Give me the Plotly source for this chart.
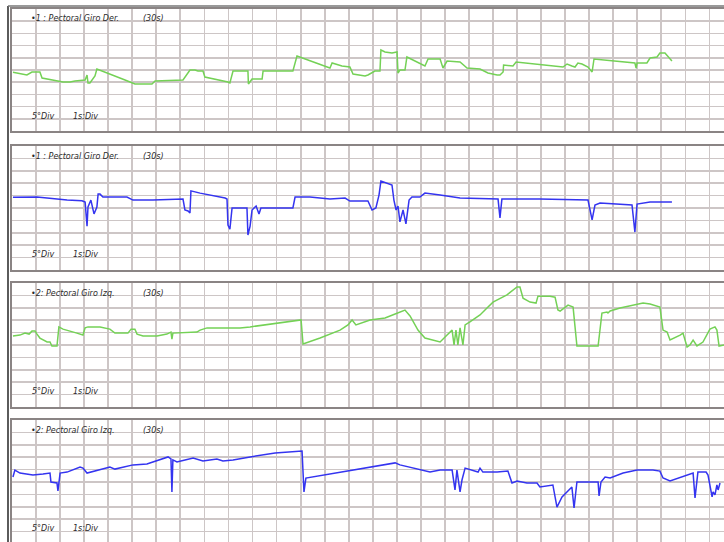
import plotly.graph_objects as go

W, H = 724, 542

# ---- data: time (s) and angle (deg) per channel ----
t1 = [0.04, 0.62, 0.83, 1.16, 1.25, 2.12, 2.41, 2.62, 3.04, 3.12, 3.16, 3.24, 3.45, 3.53, 4.70, 4.91, 5.11, 5.82, 5.95,
      7.11, 7.40, 7.61, 7.73, 7.94, 8.02, 8.98, 9.06, 9.19, 9.81, 9.83, 9.90, 9.98, 10.40, 10.44, 11.68, 11.85, 13.22,
      13.31, 13.72, 14.05, 14.18, 14.68, 14.80, 15.09, 15.30, 15.34, 15.51, 15.80, 16.01, 16.05, 16.13, 16.34, 16.42,
      17.17, 17.30, 17.80, 17.92, 18.09, 18.63, 18.92, 19.46, 19.79, 20.17, 20.29, 20.42, 20.44, 20.83, 20.96, 22.91,
      23.08, 23.28, 23.41, 23.53, 23.70, 23.95, 24.12, 24.20, 25.90, 25.95, 25.99, 26.40, 26.53, 26.82, 26.94, 27.15,
      27.28, 27.44]
a1 = [-0.9, -2.05, -0.82, -0.82, -3.28, -4.92, -4.92, -4.51, -4.1, -2.05, -5.33, -5.33, -2.46, 0.41, -4.1, -4.92, -5.74,
      -5.74, -4.51, -4.1, 0.0, 0.0, -0.41, -0.41, -2.87, -4.92, -5.33, -0.41, -0.41, -5.74, -4.92, -3.69, -3.69, -0.41,
      -0.41, 5.74, 0.82, 2.87, 1.64, 1.23, -1.64, -2.46, -2.05, -0.41, -0.41, 8.2, 7.38, 6.97, 7.38, -1.23, 0.0, 0.0,
      5.33, 1.64, 4.51, 4.51, 0.82, 3.69, 3.28, 0.82, 0.41, -1.23, -2.05, -2.05, -0.82, 2.05, 1.64, 3.28, 1.23, 2.46,
      1.64, 1.23, 2.87, 2.46, 1.23, -0.82, 4.51, 2.87, 0.82, 2.87, 2.87, 4.92, 5.33, 6.97, 6.97, 5.33, 3.69]

t2 = [0.04, 1.04, 2.29, 2.91, 3.04, 3.12, 3.16, 3.28, 3.41, 3.53, 3.58, 3.66, 3.78, 4.78, 5.03, 5.86, 7.11, 7.19, 7.32,
      7.40, 7.44, 7.82, 8.86, 8.94, 8.98, 9.06, 9.15, 9.77, 9.81, 9.90, 9.98, 10.15, 10.27, 10.35, 11.68, 11.77, 12.39,
      13.22, 13.85, 14.05, 14.80, 14.97, 15.13, 15.26, 15.34, 15.55, 15.80, 15.88, 15.97, 16.05, 16.13, 16.26, 16.38,
      16.51, 16.63, 16.96, 17.17, 17.80, 18.63, 20.21, 20.29, 20.37, 21.93, 23.95, 24.03, 24.12, 24.24, 24.45, 25.78,
      25.90, 25.99, 26.53, 27.44]
a2 = [4.3, 4.4, 3.2, 2.9, 2.4, -7.3, 0.4, 3.2, -2.4, 0.4, 5.6, 5.6, 4.4, 4.4, 3.2, 3.2, 3.6, -0.8, -1.2, -2.0, 6.9, 6.0,
      4.0, 3.6, -6.9, -8.5, 0.0, 0.0, -10.9, -7.3, -0.8, 0.8, -2.4, 0.0, 0.0, 4.4, 4.4, 3.6, 4.0, 2.8, 2.8, -0.8, 0.0,
      5.2, 10.9, 10.1, 9.3, 3.2, -0.8, 0.8, -5.6, -0.8, -6.4, 3.2, 4.4, 4.4, 6.0, 5.2, 4.0, 3.6, -4.0, 3.6, 3.6, 3.2,
      -0.8, -4.8, 1.2, 2.0, 1.2, -9.7, 1.6, 2.4, 2.4]

t3 = [0.04, 0.33, 0.54, 0.71, 0.83, 0.96, 1.04, 1.16, 1.46, 1.58, 1.66, 1.87, 1.95, 2.12, 2.70, 2.95, 3.04, 3.16, 3.66,
      4.07, 4.28, 4.82, 4.95, 5.11, 5.20, 5.45, 6.03, 6.44, 6.61, 6.65, 6.69, 7.69, 7.82, 8.11, 8.94, 9.19, 9.48, 9.90,
      10.73, 11.35, 11.89, 12.02, 12.10, 12.81, 13.64, 13.97, 14.14, 14.30, 14.89, 15.51, 15.93, 16.34, 16.55, 16.88,
      17.17, 17.80, 18.09, 18.30, 18.38, 18.46, 18.54, 18.63, 18.75, 18.84, 19.04, 19.38, 19.46, 19.75, 20.00, 20.58,
      21.00, 21.12, 21.25, 21.54, 21.79, 21.87, 22.37, 22.58, 22.70, 22.79, 23.12, 23.33, 23.49, 24.37, 24.53, 24.74,
      24.78, 24.87, 25.28, 26.24, 26.53, 26.94, 27.07, 27.24, 27.36, 27.78, 27.90, 28.07, 28.19, 28.32, 28.48, 28.73,
      29.02, 29.23, 29.31, 29.40, 29.61]
a3 = [3.6, 4.0, 4.8, 4.4, 5.6, 5.6, 4.4, 2.8, 1.2, 1.2, -0.4, -0.4, 7.3, 6.4, 4.8, 4.0, 6.9, 7.3, 7.3, 6.4, 4.8, 4.8,
      6.4, 6.4, 4.4, 3.6, 3.6, 4.4, 5.2, 2.4, 4.8, 5.2, 6.0, 6.9, 6.9, 6.9, 6.9, 7.3, 8.5, 9.3, 10.1, 10.1, 0.4, 2.8,
      6.0, 8.1, 10.1, 8.1, 10.1, 10.9, 12.5, 14.1, 11.7, 6.0, 2.8, 1.2, 4.0, 6.0, 0.0, 6.0, 0.0, 6.9, 0.0, 8.1, 9.3,
      11.7, 12.1, 14.9, 17.3, 20.2, 23.4, 23.4, 18.9, 17.3, 16.9, 19.7, 19.7, 19.3, 14.1, 13.7, 16.1, 15.3, -0.4, -0.4,
      12.9, 13.3, 12.9, 13.7, 14.9, 16.9, 16.5, 15.3, 6.0, 5.2, 2.0, 4.0, 4.8, -0.8, 0.0, 2.0, -0.4, 1.2, 6.4, 7.3,
      6.0, -0.4, 0.0]

t4 = [0.04, 0.12, 0.33, 0.87, 1.29, 1.58, 1.62, 1.87, 1.91, 1.95, 2.00, 2.29, 2.83, 2.95, 3.12, 4.07, 4.28, 5.03, 5.61,
      6.49, 6.61, 6.65, 6.69, 6.86, 7.53, 7.94, 8.52, 8.77, 9.19, 9.90, 10.94, 12.06, 12.10, 12.14, 12.22, 13.22, 14.05,
      14.89, 15.93, 16.13, 17.38, 17.80, 18.30, 18.42, 18.50, 18.63, 18.71, 18.84, 19.38, 19.46, 19.58, 20.17, 20.62,
      20.79, 21.00, 21.41, 21.83, 21.95, 22.49, 22.66, 22.87, 23.28, 23.37, 23.49, 24.37, 24.41, 24.49, 24.66, 24.87,
      25.41, 25.99, 26.65, 26.94, 27.07, 27.36, 28.32, 28.40, 28.52, 28.86, 28.94, 29.11, 29.15, 29.23, 29.31, 29.36,
      29.44]
a4 = [2.0, 4.8, 3.6, 2.8, 3.2, 3.6, 0.0, -0.4, -3.6, -0.4, 3.6, 4.0, 6.0, 5.6, 3.6, 6.0, 5.2, 6.9, 7.3, 10.1, 9.3, -4.0,
      8.9, 8.1, 9.7, 8.5, 9.3, 8.5, 8.9, 10.1, 11.7, 12.5, 1.6, -4.0, 1.6, 3.2, 4.8, 6.0, 7.7, 6.9, 4.0, 4.8, 4.8, -3.2,
      4.8, -4.0, 0.8, 5.6, 4.0, 5.6, 4.0, 4.0, 4.4, -0.4, 0.4, -0.4, -0.4, -2.0, -1.2, -10.1, -6.0, -2.0, -10.5, 0.0,
      0.0, -5.6, 0.0, 2.0, 1.6, 3.6, 4.8, 4.8, 4.4, 1.6, 0.4, 3.6, -6.4, 4.0, 4.0, 2.8, -6.0, -4.0, -5.2, -1.2, -3.2,
      -0.4]

titles = ["•1 : Pectoral Giro Der.", "•1 : Pectoral Giro Der.", "•2: Pectoral Giro Izq.", "•2: Pectoral Giro Izq."]
window_label = "(30s)"
scale_labels = ["5°Div", "1s:Div"]
series = [(t1, a1, "#74d156"), (t2, a2, "#3434f0"), (t3, a3, "#74d156"), (t4, a4, "#3434f0")]

# ---- layout in pixels ----
panels_px = [(9, 131), (146, 270), (283, 407), (420, 544)]
x0_px = 12
px_per_s = 24.05
x_max = (W - x0_px) / px_per_s

fig = go.Figure()
layout = dict(width=W, height=H, margin=dict(l=0, r=0, t=0, b=0), paper_bgcolor="white",
              plot_bgcolor="white", showlegend=False)
grid_col = "#cdc6c6"
frame_col = "#8a8484"
annotations = []
for i, ((top, bot), (tt, aa, col)) in enumerate(zip(panels_px, series)):
    n = "" if i == 0 else str(i + 1)
    vis_bot = min(bot, H)
    deg_per_px = 50.0 / (bot - top)
    y_lo = 25 - (vis_bot - top) * deg_per_px
    fig.add_trace(go.Scatter(x=tt, y=aa, mode="lines", line=dict(color=col, width=1.5),
                             xaxis="x" + n, yaxis="y" + n, hoverinfo="skip"))
    layout["xaxis" + n] = dict(domain=[x0_px / W, 1], range=[0, x_max], anchor="y" + n,
                               dtick=1, tick0=0, showgrid=True, gridcolor=grid_col, gridwidth=1.8,
                               showticklabels=False, ticks="", zeroline=False, fixedrange=True,
                               showline=True, linecolor=frame_col, linewidth=1.6, mirror=True)
    layout["yaxis" + n] = dict(domain=[1 - vis_bot / H, 1 - top / H], range=[y_lo, 25], anchor="x" + n,
                               dtick=5, tick0=0, showgrid=True, gridcolor=grid_col, gridwidth=1.5,
                               showticklabels=False, ticks="", zeroline=False, fixedrange=True,
                               showline=True, linecolor=frame_col, linewidth=1.6, mirror=False)
    fnt = dict(family="DejaVu Sans", size=8, color="#2a2a2a")
    ty = top + 10
    by = top + 108
    annotations += [
        dict(text="<i>" + titles[i] + "</i>", x=29 / W, y=1 - ty / H, xref="paper", yref="paper",
             xanchor="left", yanchor="middle", showarrow=False, font=fnt),
        dict(text="<i>" + window_label + "</i>", x=141 / W, y=1 - ty / H, xref="paper", yref="paper",
             xanchor="left", yanchor="middle", showarrow=False, font=fnt),
        dict(text="<i>" + scale_labels[0] + "</i>", x=30 / W, y=1 - by / H, xref="paper", yref="paper",
             xanchor="left", yanchor="middle", showarrow=False, font=fnt),
        dict(text="<i>" + scale_labels[1] + "</i>", x=71 / W, y=1 - by / H, xref="paper", yref="paper",
             xanchor="left", yanchor="middle", showarrow=False, font=fnt),
    ]
layout["annotations"] = annotations
layout["shapes"] = [
    dict(type="line", xref="paper", yref="paper", x0=8 / W, x1=8 / W, y0=0, y1=1 - 6 / H,
         line=dict(color="#333333", width=1.6)),
    dict(type="line", xref="paper", yref="paper", x0=8 / W, x1=1, y0=1 - 6 / H, y1=1 - 6 / H,
         line=dict(color="#777777", width=1.4)),
]
fig.update_layout(**layout)
fig.write_html("out.html", config={"displayModeBar": False, "staticPlot": True},
               post_script="document.body.style.margin='0px';document.body.style.overflow='hidden';")
